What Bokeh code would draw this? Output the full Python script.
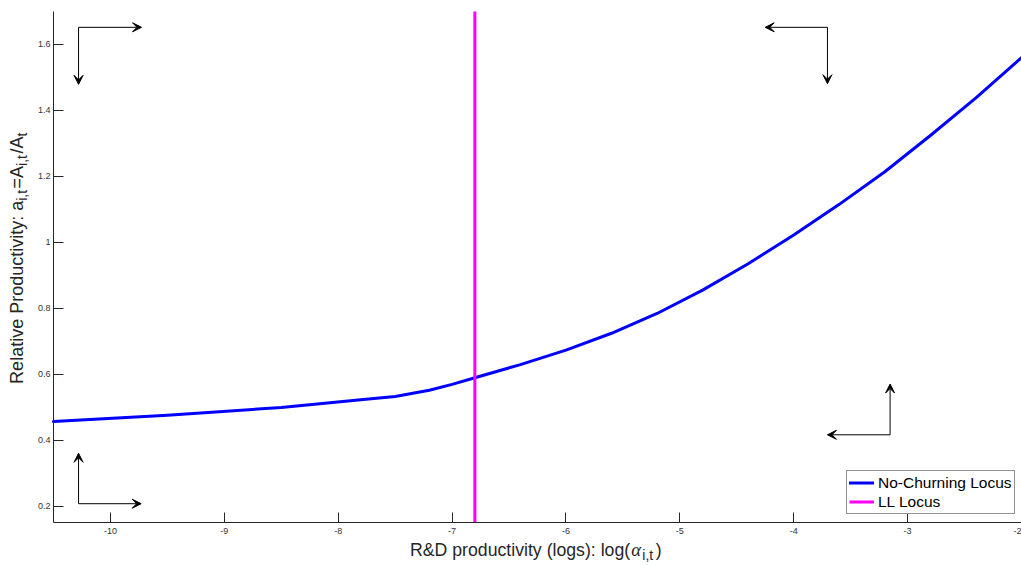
import math
from bokeh.plotting import figure
from bokeh.models import Range1d, FixedTicker, Label, Arrow, VeeHead, Legend, LegendItem
from bokeh.embed import file_html
from bokeh.resources import INLINE

# ---------------- data ----------------
x_curve = [-10.5, -9.5, -8.5, -7.78, -7.5, -7.2, -7.0, -6.8, -6.4, -6.0, -5.6, -5.2, -4.8,
           -4.4, -4.0, -3.6, -3.2, -2.8, -2.4, -2.0]
y_curve = [0.456, 0.475, 0.499, 0.523, 0.532, 0.551, 0.569, 0.589, 0.629, 0.673, 0.724, 0.784,
           0.855, 0.935, 1.022, 1.115, 1.214, 1.324, 1.438, 1.560]
ll_x = -6.8

x_ticks = [-10, -9, -8, -7, -6, -5, -4, -3, -2]
x_tick_labels = ["-10", "-9", "-8", "-7", "-6", "-5", "-4", "-3", "-2"]
y_ticks = [0.2, 0.4, 0.6, 0.8, 1.0, 1.2, 1.4, 1.6]
y_tick_labels = ["0.2", "0.4", "0.6", "0.8", "1", "1.2", "1.4", "1.6"]

series_names = ["No-Churning Locus", "LL Locus"]

# phase arrows: corner point, horizontal tip x, vertical tip y
arrow_corner_x = [-10.28, -3.704, -3.154, -10.28]
arrow_corner_y = [1.652, 1.652, 0.416, 0.207]
arrow_htip_x = [-9.727, -4.25, -3.704, -9.73]
arrow_vtip_y = [1.479, 1.481, 0.570, 0.360]

X_MIN, X_MAX = -10.5, -2.0
Y_MIN, Y_MAX = 0.15, 1.70

# ---------------- layout ----------------
W, H = 1021, 565
AXL, AXR, AXT, AXB = 53.0, 1021.0, 11.0, 522.0   # axes box in canvas pixels
DX = (X_MAX - X_MIN) / (AXR - AXL)
DY = (Y_MAX - Y_MIN) / (AXB - AXT)
XR0 = X_MIN - AXL * DX
XR1 = X_MAX + (W - AXR) * DX
YR1 = Y_MAX + AXT * DY
YR0 = Y_MIN - (H - AXB) * DY

def xd(px):
    return XR0 + px * DX

def yd(py):
    return YR1 - py * DY

p = figure(width=W, height=H, output_backend="svg", toolbar_location=None,
           x_range=Range1d(XR0, XR1), y_range=Range1d(YR0, YR1),
           min_border=0, title=None)
p.outline_line_color = None
p.grid.visible = False
p.background_fill_color = "white"
p.border_fill_color = "white"

AX = "#262626"
for ax in (p.xaxis[0], p.yaxis[0]):
    ax.axis_line_color = AX
    ax.axis_line_width = 1
    ax.major_tick_line_color = AX
    ax.major_tick_in = 10
    ax.major_tick_out = 0
    ax.minor_tick_line_color = None
    ax.major_label_text_font = "Liberation Sans"
    ax.major_label_text_font_size = "9px"
    ax.major_label_text_color = "#333333"

p.xaxis.fixed_location = Y_MIN
p.xaxis.bounds = (X_MIN, X_MAX)
p.xaxis.ticker = FixedTicker(ticks=x_ticks)
p.xaxis.major_label_overrides = {t: l for t, l in zip(x_ticks, x_tick_labels)}
p.xaxis.major_label_standoff = 5
p.yaxis.fixed_location = X_MIN
p.yaxis.bounds = (Y_MIN, Y_MAX)
p.yaxis.ticker = FixedTicker(ticks=y_ticks)
p.yaxis.major_label_overrides = {t: l for t, l in zip(y_ticks, y_tick_labels)}
p.yaxis.major_label_standoff = 3

r_blue = p.line(x_curve, y_curve, line_color="#0000FF", line_width=3,
                line_join="round", line_cap="round")
r_mag = p.line([ll_x, ll_x], [Y_MIN, Y_MAX], line_color="#FF00FF", line_width=3)

legend = Legend(items=[LegendItem(label=series_names[0], renderers=[r_blue]),
                       LegendItem(label=series_names[1], renderers=[r_mag])],
                location=(846, H - 514), padding=2, spacing=0,
                glyph_width=25, glyph_height=19, label_height=19,
                label_standoff=4, label_text_font="Liberation Sans",
                label_text_font_size="15.5px", label_text_color="#000000",
                border_line_color="#262626", border_line_width=1,
                background_fill_color="white", background_fill_alpha=1)
p.add_layout(legend)

for cx, cy, hx, vy in zip(arrow_corner_x, arrow_corner_y, arrow_htip_x, arrow_vtip_y):
    for (ex, ey) in ((hx, cy), (cx, vy)):
        p.add_layout(Arrow(x_start=cx, y_start=cy, x_end=ex, y_end=ey,
                           line_color="black", line_width=1,
                           end=VeeHead(size=9, fill_color="black", line_color="black",
                                       line_width=1)))

# ---------------- axis labels (composed, TeX-like) ----------------
CW = {'R': 722, '&': 667, 'D': 722, ' ': 278, 'p': 556, 'r': 333, 'o': 556, 'd': 556,
      'u': 556, 'c': 500, 't': 278, 'i': 222, 'v': 500, 'y': 500, '(': 333, 'l': 222,
      'g': 556, 's': 500, ')': 333, ':': 278, 'e': 556, 'a': 556, 'P': 667, ',': 278,
      '=': 584, 'A': 667, '/': 278}

def tw(s, size):
    return sum(CW.get(c, 556) for c in s) * size / 1000.0

FS = 18.0
SS = 14.0
BASE_SHIFT = 0.36   # measured offset of the rendered baseline (in em)
TXT = "#262626"

def lab(px, py, text, size, font="Liberation Sans", style="normal", angle=0.0):
    # (px, py) is the wanted baseline point; compensate the renderer's offset
    if angle == 0.0:
        py = py - BASE_SHIFT * size
    else:
        px = px - BASE_SHIFT * size
    p.add_layout(Label(x=xd(px), y=yd(py), text=text, angle=angle, text_font=font,
                       text_font_style=style, text_font_size=f"{size}px",
                       text_color=TXT, text_align="left", text_baseline="alphabetic"))

# x label
x_main = "R&D productivity (logs): log("
bx = 409.5
base_y = 555.5
sub_y = 559.5
FSX = 17.7
lab(bx, base_y, x_main, FSX)
a_x = bx + tw(x_main, FSX) + 1.0
lab(a_x, base_y, "α", FSX + 1, font="Liberation Serif", style="italic")
s_x = a_x + 11.0
lab(s_x, sub_y, "i,t", SS)
lab(s_x + tw("i,t", SS) + 2.5, base_y, ")", FSX)

# y label (rotated)
y_segs = [("Relative Productivity: a", FS, False), ("i,t", SS, True), ("=A", FS, False),
          ("i,t", SS, True), ("/A", FS, False), ("t", SS, True)]
GAP = 1.5
total = sum(tw(s, f) + (GAP if sub else 0.0) for s, f, sub in y_segs)
center_y = 257.0
cur = center_y + total / 2.0
main_bx = 22.5
sub_bx = 26.5
for s, f, is_sub in y_segs:
    lab(sub_bx if is_sub else main_bx, cur, s, f, angle=math.pi / 2)
    cur -= tw(s, f) + (GAP if is_sub else 0.0)

open("out.html", "w").write(file_html(p, INLINE))
